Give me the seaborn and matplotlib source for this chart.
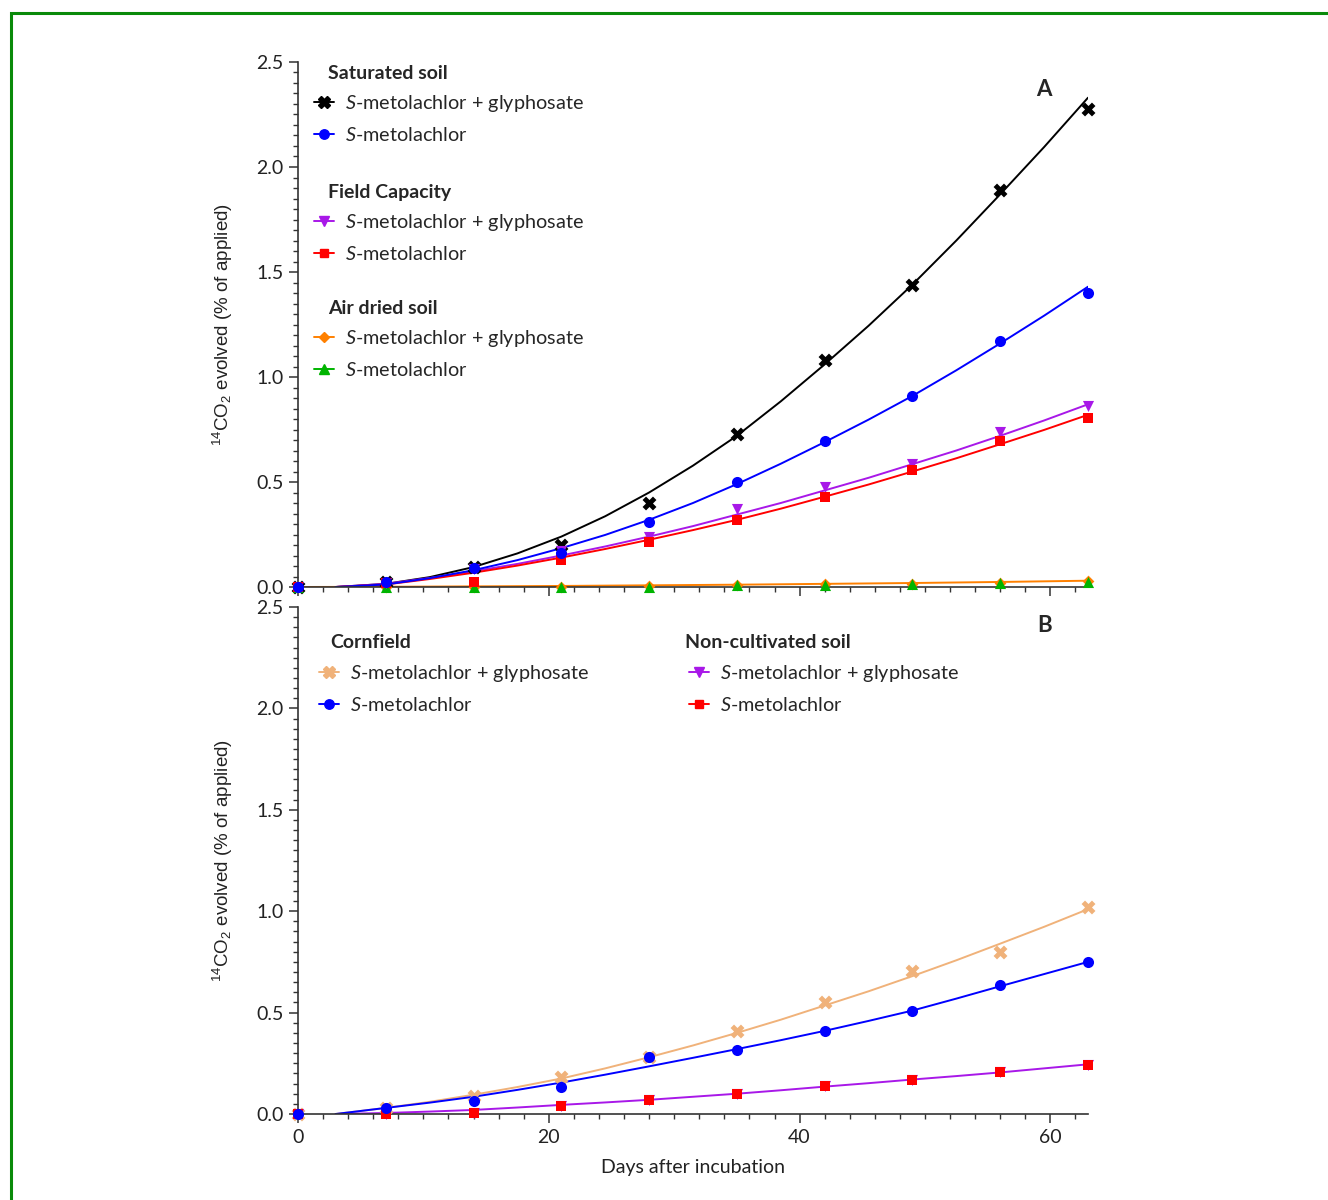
import matplotlib
matplotlib.use("Agg")
import matplotlib.pyplot as plt
from matplotlib.lines import Line2D
from matplotlib.patches import Rectangle
from matplotlib.ticker import MultipleLocator, FormatStrFormatter
import seaborn as sns

days = [0, 7, 14, 21, 28, 35, 42, 49, 56, 63]
fit_days = [3, 7, 10.5, 14, 17.5, 21, 24.5, 28, 31.5, 35, 38.5, 42, 45.5,
            49, 52.5, 56, 59.5, 63]

# panel A, measured points
sat_gly = [0, 0.024, 0.095, 0.2, 0.4, 0.729, 1.08, 1.438, 1.89, 2.276]
sat_smet = [0, 0.024, 0.09, 0.16, 0.31, 0.5, 0.695, 0.91, 1.17, 1.40]
fc_gly = [0, 0.02, 0.085, 0.17, 0.24, 0.37, 0.476, 0.586, 0.74, 0.86]
fc_smet = [0, 0.02, 0.025, 0.13, 0.215, 0.32, 0.43, 0.557, 0.695, 0.805]
air_gly = [0, 0, 0, 0, 0.005, 0.01, 0.012, 0.015, 0.02, 0.027]
air_smet = [0, 0, 0, 0, 0, 0.01, 0.01, 0.015, 0.02, 0.025]

# panel A, fitted curves
sat_gly_fit = [0, 0.015, 0.047, 0.095, 0.16, 0.24, 0.337, 0.45, 0.578, 0.72,
               0.884, 1.06, 1.244, 1.44, 1.65, 1.87, 2.095, 2.33]
sat_smet_fit = [0, 0.012, 0.042, 0.08, 0.128, 0.185, 0.248, 0.32, 0.40, 0.49,
                0.587, 0.69, 0.797, 0.91, 1.032, 1.16, 1.292, 1.43]
fc_gly_fit = [0, 0.015, 0.043, 0.075, 0.11, 0.15, 0.193, 0.24, 0.29, 0.345,
              0.40, 0.46, 0.52, 0.585, 0.65, 0.72, 0.793, 0.87]
fc_smet_fit = [0, 0.012, 0.038, 0.068, 0.102, 0.14, 0.181, 0.225, 0.271, 0.32,
               0.373, 0.43, 0.488, 0.55, 0.613, 0.68, 0.748, 0.82]
air_gly_fit = [0, 0.001, 0.003, 0.005, 0.008, 0.011, 0.015, 0.019, 0.024, 0.03]

# panel B, measured points
corn_gly = [0, 0.03, 0.09, 0.18, 0.28, 0.41, 0.55, 0.705, 0.80, 1.02]
corn_smet = [0, 0.03, 0.065, 0.135, 0.28, 0.315, 0.41, 0.51, 0.636, 0.75]
nc_gly = [0, 0, 0.005, 0.04, 0.07, 0.1, 0.14, 0.17, 0.205, 0.24]
nc_smet = [0, 0, 0.005, 0.04, 0.07, 0.1, 0.14, 0.17, 0.205, 0.24]

# panel B, fitted curves
corn_gly_fit = [0, 0.03, 0.06, 0.095, 0.133, 0.175, 0.225, 0.28, 0.338, 0.4,
                0.465, 0.535, 0.605, 0.68, 0.758, 0.84, 0.923, 1.01]
corn_smet_fit = [0, 0.03, 0.056, 0.085, 0.119, 0.155, 0.194, 0.235, 0.277,
                 0.32, 0.364, 0.41, 0.459, 0.51, 0.569, 0.63, 0.69, 0.75]
nc_fit = [0, 0.005, 0.012, 0.02, 0.032, 0.045, 0.057, 0.07, 0.085, 0.1,
          0.117, 0.135, 0.152, 0.17, 0.187, 0.205, 0.225, 0.245]

BLACK, BLUE, PURPLE, RED = "#000000", "#0000ff", "#a818e8", "#ff0000"
ORANGE, GREEN, TAN = "#ff8000", "#00b400", "#f0b27a"

sns.set_style("ticks")
plt.rcParams["font.family"] = ["Lato", "DejaVu Sans"]
plt.rcParams["mathtext.fontset"] = "custom"
plt.rcParams["mathtext.it"] = "Lato:italic"
plt.rcParams["mathtext.rm"] = "Liberation Sans"

fig = plt.figure(figsize=(13.28, 12.0), dpi=100)
axA = fig.add_axes([298 / 1328, 1 - 587 / 1200, 790 / 1328, 525 / 1200])
axB = fig.add_axes([298 / 1328, 1 - 1114 / 1200, 790 / 1328, 507 / 1200])


def series(ax, y, fx, fy, color, marker, ms, line_color=None):
    if fy is not None:
        sns.lineplot(x=fx, y=fy, color=line_color or color, lw=1.4, ax=ax,
                     zorder=2)
    sns.scatterplot(x=days, y=y, color=color, marker=marker, s=ms ** 2,
                    linewidth=0, ax=ax, zorder=3, clip_on=False)


series(axA, sat_gly, fit_days, sat_gly_fit, BLACK, "X", 10)
series(axA, air_gly, days, air_gly_fit, ORANGE, "D", 6)
series(axA, air_smet, days, None, GREEN, "^", 8)
series(axA, fc_gly, fit_days, fc_gly_fit, PURPLE, "v", 8)
series(axA, fc_smet, fit_days, fc_smet_fit, RED, "s", 7.5)
series(axA, sat_smet, fit_days, sat_smet_fit, BLUE, "o", 8)

series(axB, corn_gly, fit_days, corn_gly_fit, TAN, "X", 10)
series(axB, nc_gly, fit_days, None, PURPLE, "v", 8)
series(axB, nc_smet, fit_days, nc_fit, RED, "s", 7.5, line_color=PURPLE)
series(axB, corn_smet, fit_days, corn_smet_fit, BLUE, "o", 8)

ylab = r"$^{14}$CO$_2$ evolved (% of applied)"
for ax in (axA, axB):
    ax.set_xlim(0, 63)
    ax.set_ylim(0, 2.5)
    ax.spines["top"].set_visible(False)
    ax.spines["right"].set_visible(False)
    for s in ("left", "bottom"):
        ax.spines[s].set_color("#333333")
        ax.spines[s].set_linewidth(1.2)
    ax.xaxis.set_major_locator(MultipleLocator(20))
    ax.xaxis.set_minor_locator(MultipleLocator(2))
    ax.yaxis.set_major_locator(MultipleLocator(0.5))
    ax.yaxis.set_minor_locator(MultipleLocator(0.05))
    ax.yaxis.set_major_formatter(FormatStrFormatter("%.1f"))
    ax.tick_params(which="major", direction="out", length=6.5, width=1.1,
                   color="#333333", labelsize=14, labelcolor="#222222", pad=4)
    ax.tick_params(which="minor", direction="out", length=3.5, width=1.0,
                   color="#333333")
    ax.set_ylabel(ylab, fontsize=13.5, family="Liberation Sans", color="#222222")
    ax.yaxis.set_label_coords(-0.08, 0.5)
    ax.set_xlabel("")
    ax.patch.set_alpha(0)

axA.tick_params(axis="x", labelbottom=False)
axB.set_xlabel("Days after incubation", fontsize=14, color="#222222", labelpad=10)

axA.text(59.5, 2.37, "A", fontsize=16, fontweight="bold", ha="center", va="center")
axB.text(59.5, 2.41, "B", fontsize=16, fontweight="bold", ha="center", va="center")


def handle(color, marker, ms):
    return Line2D([], [], color=color, marker=marker, ms=ms, lw=1.4)


lab_gly = r"$\mathit{S}$-metolachlor + glyphosate"
lab_smet = r"$\mathit{S}$-metolachlor"


def group(ax, title, tx, ty, lx, ly, handles):
    ax.text(tx, ty, title, transform=ax.transAxes, fontsize=14,
            fontweight="bold", ha="left", va="center")
    leg = ax.legend(handles=handles, labels=[lab_gly, lab_smet],
                    loc="upper left", bbox_to_anchor=(lx, ly), frameon=False,
                    prop={"size": 14.3, "weight": "normal"},
                    borderpad=0, borderaxespad=0, handlelength=1.0,
                    handletextpad=0.55, labelspacing=0.6, markerscale=0.85)
    ax.add_artist(leg)
    ax.legend_ = None


group(axA, "Saturated soil", 0.038, 0.979, 0.020, 0.941,
      [handle(BLACK, "X", 10), handle(BLUE, "o", 8)])
group(axA, "Field Capacity", 0.038, 0.752, 0.020, 0.714,
      [handle(PURPLE, "v", 8), handle(RED, "s", 7.5)])
group(axA, "Air dried soil", 0.038, 0.531, 0.020, 0.493,
      [handle(ORANGE, "D", 6), handle(GREEN, "^", 8)])

group(axB, "Cornfield", 0.0405, 0.929, 0.027, 0.889,
      [handle(TAN, "X", 10), handle(BLUE, "o", 8)])
group(axB, "Non-cultivated soil", 0.49, 0.929, 0.495, 0.889,
      [handle(PURPLE, "v", 8), handle(RED, "s", 7.5)])

# green frame, only top and left edges visible
fig.patches.append(Rectangle((11 / 1328, -0.1), 2, 1 - 13 / 1200 + 0.1,
                             transform=fig.transFigure, fill=False,
                             edgecolor="#0a8a0a", lw=2.2))

fig.savefig("out.png", dpi=100)
